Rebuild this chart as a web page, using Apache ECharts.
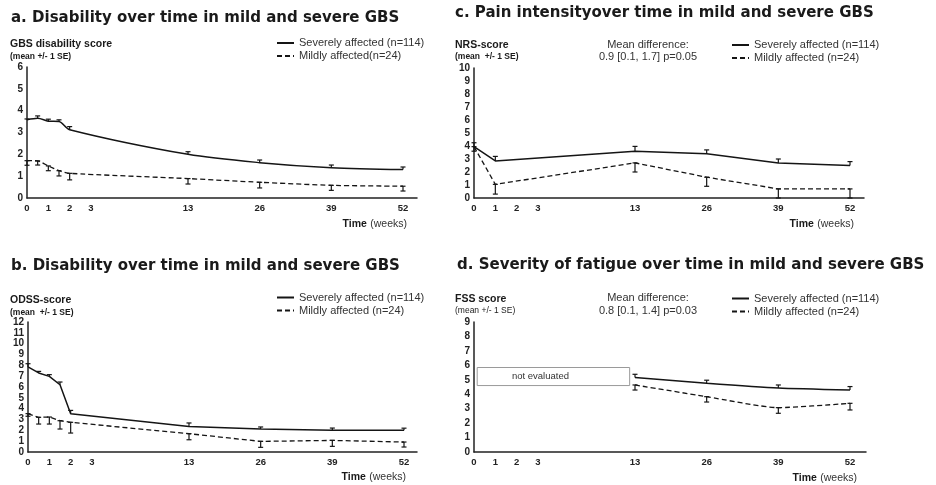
<!DOCTYPE html>
<html><head><meta charset="utf-8">
<script src="https://cdn.jsdelivr.net/npm/echarts@6/dist/echarts.min.js"></script>
<style>html,body{margin:0;padding:0;background:#fff}#c{width:936px;height:485px}</style>
</head><body><div id="c"></div>
<script>
// ---- x-axis tick labels (weeks) ----
const xTickWeeks = [0, 1, 2, 3, 13, 26, 39, 52];

// ---- panel a: GBS disability score ----
const weeksAB   = [0, 0.5, 1, 1.5, 2, 13, 26, 39, 52];
const aSevere   = [3.58, 3.65, 3.52, 3.50, 3.13, 2.00, 1.62, 1.39, 1.30];
const aSevereHi = [3.62, 3.76, 3.61, 3.58, 3.27, 2.12, 1.74, 1.51, 1.42];
const aMild     = [1.71, 1.70, 1.47, 1.25, 1.13, 0.89, 0.72, 0.58, 0.54];
const aMildLo   = [1.50, 1.51, 1.25, 1.01, 0.83, 0.64, 0.46, 0.35, 0.32];

// ---- panel b: ODSS score ----
const bSevere   = [7.85, 7.30, 6.98, 6.21, 3.54, 2.36, 2.12, 2.00, 2.00];
const bSevereHi = [8.15, 7.44, 7.14, 6.46, 3.84, 2.68, 2.31, 2.21, 2.20];
const bMild     = [3.54, 3.20, 3.23, 2.89, 2.74, 1.69, 0.98, 1.07, 0.92];
const bMildLo   = [3.30, 2.58, 2.58, 2.12, 1.75, 1.13, 0.43, 0.52, 0.46];

// ---- panel c: NRS pain score ----
const weeksC    = [0, 1, 13, 26, 39, 52];
const cSevere   = [3.95, 2.85, 3.60, 3.40, 2.70, 2.50];
const cSevereHi = [4.25, 3.20, 3.97, 3.70, 3.00, 2.80];
const cMild     = [3.95, 1.05, 2.70, 1.60, 0.70, 0.70];
const cMildLo   = [3.60, 0.30, 2.00, 0.90, 0.00, 0.00];

// ---- panel d: FSS fatigue score ----
const weeksD    = [13, 26, 39, 52];
const dSevere   = [5.15, 4.76, 4.43, 4.29];
const dSevereHi = [5.38, 4.97, 4.64, 4.53];
const dMild     = [4.64, 3.83, 3.07, 3.37];
const dMildLo   = [4.29, 3.46, 2.68, 2.91];
const notEvalWeeks = [0.15, 12.45];
const notEvalScore = [4.6, 5.85];

// ---- broken (piecewise) time scale ----
const breakWeeks = [0, 3, 13, 52];
const breakPos   = [0, 64, 161, 376];
function toPos(w) {
  for (let i = 1; i < breakWeeks.length; i++) {
    if (w <= breakWeeks[i] || i === breakWeeks.length - 1) {
      const t = (w - breakWeeks[i-1]) / (breakWeeks[i] - breakWeeks[i-1]);
      return breakPos[i-1] + t * (breakPos[i] - breakPos[i-1]);
    }
  }
}
function fromPos(p) {
  for (let i = 1; i < breakPos.length; i++) {
    if (p <= breakPos[i] + 1e-6 || i === breakPos.length - 1) {
      const t = (p - breakPos[i-1]) / (breakPos[i] - breakPos[i-1]);
      return breakWeeks[i-1] + t * (breakWeeks[i] - breakWeeks[i-1]);
    }
  }
}

const SANS = "'Liberation Sans', Arial, sans-serif";
const TITLE = "'DejaVu Sans', sans-serif";
const SEV = 'Severely affected (n=114)';

const grids = [
  {left: 27,  top: 67,  width: 390, height: 131},
  {left: 28,  top: 322, width: 389, height: 130},
  {left: 474, top: 68,  width: 390, height: 130},
  {left: 474, top: 322, width: 392, height: 130}
];
const yMax = [6, 12, 10, 9];

const xAxes = grids.map((g, i) => ({
  type: 'value', gridIndex: i, min: 0, max: g.width,
  axisLine: {show: true, onZero: false, lineStyle: {color: '#222', width: 1.5}},
  axisTick: {show: false}, splitLine: {show: false},
  axisLabel: {
    customValues: xTickWeeks.map(toPos),
    formatter: v => String(Math.round(fromPos(v))),
    fontFamily: SANS, fontWeight: 'bold', fontSize: 9.5, color: '#222', margin: 5
  }
}));
const yAxes = grids.map((g, i) => ({
  type: 'value', gridIndex: i, min: 0, max: yMax[i], interval: 1,
  axisLine: {show: true, onZero: false, lineStyle: {color: '#222', width: 1.5}},
  axisTick: {show: false}, splitLine: {show: false},
  axisLabel: {fontFamily: SANS, fontWeight: 'bold', fontSize: 10, color: '#222', margin: 4}
}));

function lineSeries(gi, name, weeks, vals, mild, smooth) {
  return {
    type: 'line', name, xAxisIndex: gi, yAxisIndex: gi,
    data: weeks.map((w, i) => [toPos(w), vals[i]]),
    symbol: 'none', smooth: smooth || false, z: 3,
    lineStyle: {color: '#151515', width: mild ? 1.3 : 1.5, type: mild ? [5, 3] : 'solid'},
    itemStyle: {color: '#151515'}
  };
}
function errSeries(gi, weeks, mean, end, mild) {
  return {
    type: 'custom', xAxisIndex: gi, yAxisIndex: gi, silent: true, z: 4,
    data: weeks.map((w, i) => [toPos(w), mean[i], end[i]]),
    encode: {x: 0, y: [1, 2]},
    renderItem: (params, api) => {
      const x = api.value(0);
      const p1 = api.coord([x, api.value(1)]);
      const p2 = api.coord([x, api.value(2)]);
      const c = 2.5, st = {stroke: '#151515', lineWidth: 1.2};
      const kids = [
        {type: 'line', shape: {x1: p1[0], y1: p1[1], x2: p2[0], y2: p2[1]}, style: st},
        {type: 'line', shape: {x1: p2[0]-c, y1: p2[1], x2: p2[0]+c, y2: p2[1]}, style: st}
      ];
      if (mild) kids.push({type: 'line', shape: {x1: p1[0]-c, y1: p1[1], x2: p1[0]+c, y2: p1[1]}, style: st});
      return {type: 'group', children: kids};
    }
  };
}

const dSevereSeries = lineSeries(3, SEV, weeksD, dSevere, false, 0.2);
dSevereSeries.markArea = {
  silent: true,
  itemStyle: {color: '#fff', borderColor: '#9a9a9a', borderWidth: 1},
  label: {show: true, position: 'inside', formatter: 'not evaluated', fontFamily: SANS, fontSize: 9.5, color: '#333', offset: [-13, 0]},
  data: [[{xAxis: toPos(notEvalWeeks[0]), yAxis: notEvalScore[0]}, {xAxis: toPos(notEvalWeeks[1]), yAxis: notEvalScore[1]}]]
};

const series = [
  lineSeries(0, SEV, weeksAB, aSevere, false, 0.3),
  lineSeries(0, 'Mildly affected(n=24)', weeksAB, aMild, true, 0.2),
  errSeries(0, weeksAB, aSevere, aSevereHi, false),
  errSeries(0, weeksAB, aMild, aMildLo, true),
  lineSeries(1, SEV, weeksAB, bSevere, false),
  lineSeries(1, 'Mildly affected (n=24)', weeksAB, bMild, true),
  errSeries(1, weeksAB, bSevere, bSevereHi, false),
  errSeries(1, weeksAB, bMild, bMildLo, true),
  lineSeries(2, SEV, weeksC, cSevere, false),
  lineSeries(2, 'Mildly affected (n=24)', weeksC, cMild, true),
  errSeries(2, weeksC, cSevere, cSevereHi, false),
  errSeries(2, weeksC, cMild, cMildLo, true),
  dSevereSeries,
  lineSeries(3, 'Mildly affected (n=24)', weeksD, dMild, true, 0.2),
  errSeries(3, weeksD, dSevere, dSevereHi, false),
  errSeries(3, weeksD, dMild, dMildLo, true)
];

function legendAt(left, top, mildName) {
  return {
    orient: 'vertical', left, top, itemWidth: 17, itemHeight: 8, itemGap: 2,
    selectedMode: false, padding: 0,
    data: [SEV, mildName],
    itemStyle: {opacity: 0, borderWidth: 0},
    textStyle: {fontFamily: SANS, fontSize: 11, color: '#333', lineHeight: 11}
  };
}

function txt(x, y, text, font, align, fill) {
  return {type: 'text', x, y, silent: true,
    style: {text, font, fill: fill || '#1a1a1a', textAlign: align || 'left', textVerticalAlign: 'middle'}};
}
function timeLabel(xRight, y) {
  return {type: 'text', x: xRight, y, silent: true,
    style: {text: '{b|Time} {n|(weeks)}', textAlign: 'right', textVerticalAlign: 'middle',
      rich: {b: {fontFamily: SANS, fontWeight: 'bold', fontSize: 10.5, fill: '#1a1a1a'},
             n: {fontFamily: SANS, fontSize: 10.5, fill: '#333'}}}};
}
const TF = 'bold 15px ' + TITLE;
const NF = 'bold 10.5px ' + SANS;
const SF = 'bold 8.5px ' + SANS;
const MF = '11px ' + SANS;

const graphic = [
  txt(11, 18, 'a. Disability over time in mild and severe GBS', TF),
  txt(455, 13, 'c. Pain intensityover time in mild and severe GBS', TF),
  txt(11, 266, 'b. Disability over time in mild and severe GBS', TF),
  txt(457, 265, 'd. Severity of fatigue over time in mild and severe GBS', TF),
  txt(10, 44, 'GBS disability score', NF),
  txt(10, 57, '(mean +/- 1 SE)', SF),
  txt(455, 45, 'NRS-score', NF),
  txt(455, 57, '(mean  +/- 1 SE)', SF),
  txt(10, 300, 'ODSS-score', NF),
  txt(10, 313, '(mean  +/- 1 SE)', SF),
  txt(455, 299, 'FSS score', NF),
  txt(455, 311, '(mean +/- 1 SE)', '8.5px ' + SANS),
  txt(648, 45, 'Mean difference:', MF, 'center', '#333'),
  txt(648, 57, '0.9 [0.1, 1.7] p=0.05', MF, 'center', '#333'),
  txt(648, 298, 'Mean difference:', MF, 'center', '#333'),
  txt(648, 311, '0.8 [0.1, 1.4] p=0.03', MF, 'center', '#333'),
  timeLabel(407, 224),
  timeLabel(406, 477),
  timeLabel(854, 224),
  timeLabel(857, 478)
];

const chart = echarts.init(document.getElementById('c'), null, {renderer: 'canvas'});
chart.setOption({
  animation: false,
  backgroundColor: '#fff',
  grid: grids,
  xAxis: xAxes,
  yAxis: yAxes,
  legend: [
    legendAt(276, 37.5, 'Mildly affected(n=24)'),
    legendAt(276, 292, 'Mildly affected (n=24)'),
    legendAt(731, 39.5, 'Mildly affected (n=24)'),
    legendAt(731, 293, 'Mildly affected (n=24)')
  ],
  series,
  graphic
});
</script>
</body></html>
